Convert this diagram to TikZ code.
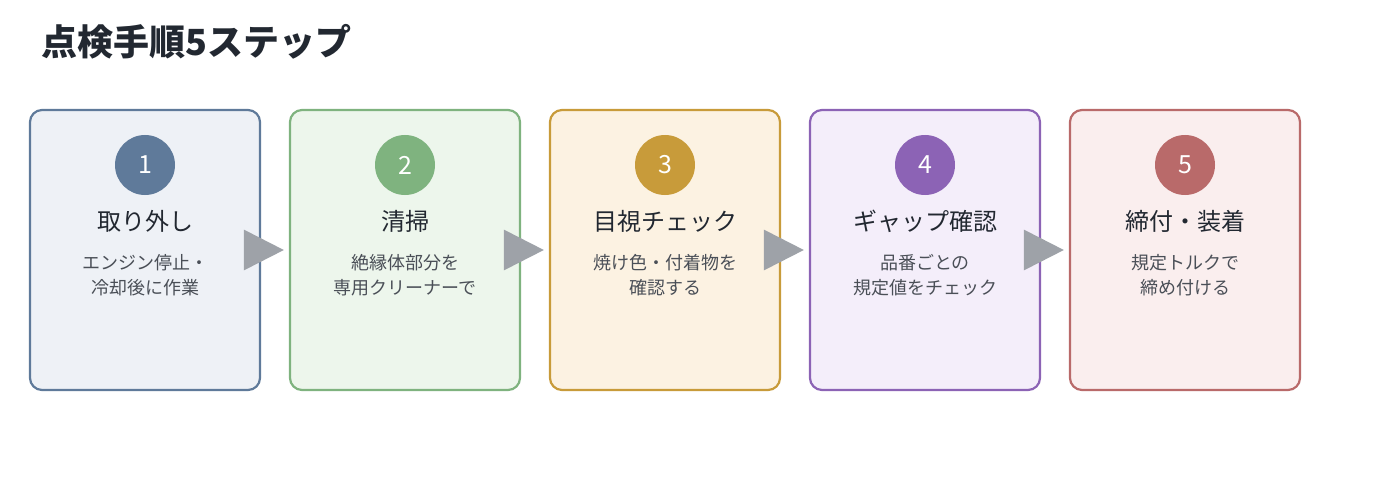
\documentclass[tikz,border=0pt]{standalone}
\usepackage{fontspec}
\setmainfont{Noto Sans CJK JP}
\usetikzlibrary{arrows.meta}
\definecolor{c1}{HTML}{5F7A9A}\definecolor{f1}{HTML}{EEF1F6}
\definecolor{c2}{HTML}{7FB37F}\definecolor{f2}{HTML}{EDF6EC}
\definecolor{c3}{HTML}{C89B3A}\definecolor{f3}{HTML}{FCF2E2}
\definecolor{c4}{HTML}{8C63B5}\definecolor{f4}{HTML}{F4EEFA}
\definecolor{c5}{HTML}{B96A6A}\definecolor{f5}{HTML}{FAEEEE}
\definecolor{ar}{HTML}{9EA2A8}
\definecolor{tx}{HTML}{222831}
\definecolor{ds}{HTML}{4A4F57}
\begin{document}
\begin{tikzpicture}[x=1pt,y=-1pt,
 box/.style={draw=#1,line width=2.2pt,rounded corners=12pt,minimum width=230pt,minimum height=280pt,inner sep=0pt},
 num/.style={circle,fill=#1,minimum size=60pt,inner sep=0pt,text=white,font=\fontsize{25}{25}\selectfont},
 ttl/.style={font=\fontsize{24}{24}\selectfont,text=tx},
 dsc/.style={font=\fontsize{18}{25}\selectfont,text=ds,align=center,anchor=north},
 arr/.style={draw=ar,line width=3pt,-{Triangle[length=40pt,width=40pt]},shorten >=5pt}]
\useasboundingbox (0,0) rectangle (1400,500);
\node[anchor=west,font=\bfseries\fontsize{36}{36}\selectfont,text=tx] (title) at (38,42) {点検手順5ステップ};
\foreach \i/\t/\d in {1/取り外し/{エンジン停止・\\冷却後に作業},2/清掃/{絶縁体部分を\\専用クリーナーで},3/目視チェック/{焼け色・付着物を\\確認する},4/ギャップ確認/{品番ごとの\\規定値をチェック},5/締付・装着/{規定トルクで\\締め付ける}}{
 \pgfmathsetmacro\cx{145+260*(\i-1)}
 \node[box=c\i,fill=f\i] (b\i) at (\cx,250) {};
 \node[num=c\i] (n\i) at (\cx,165) {\i};
 \node[ttl] (t\i) at (\cx,221) {\t};
 \node[dsc] (d\i) at (\cx,251) {\d};
}
\foreach \i/\j in {1/2,2/3,3/4,4/5}{\draw[arr] (b\i.east) -- (b\j.west);}
\end{tikzpicture}
\end{document}
